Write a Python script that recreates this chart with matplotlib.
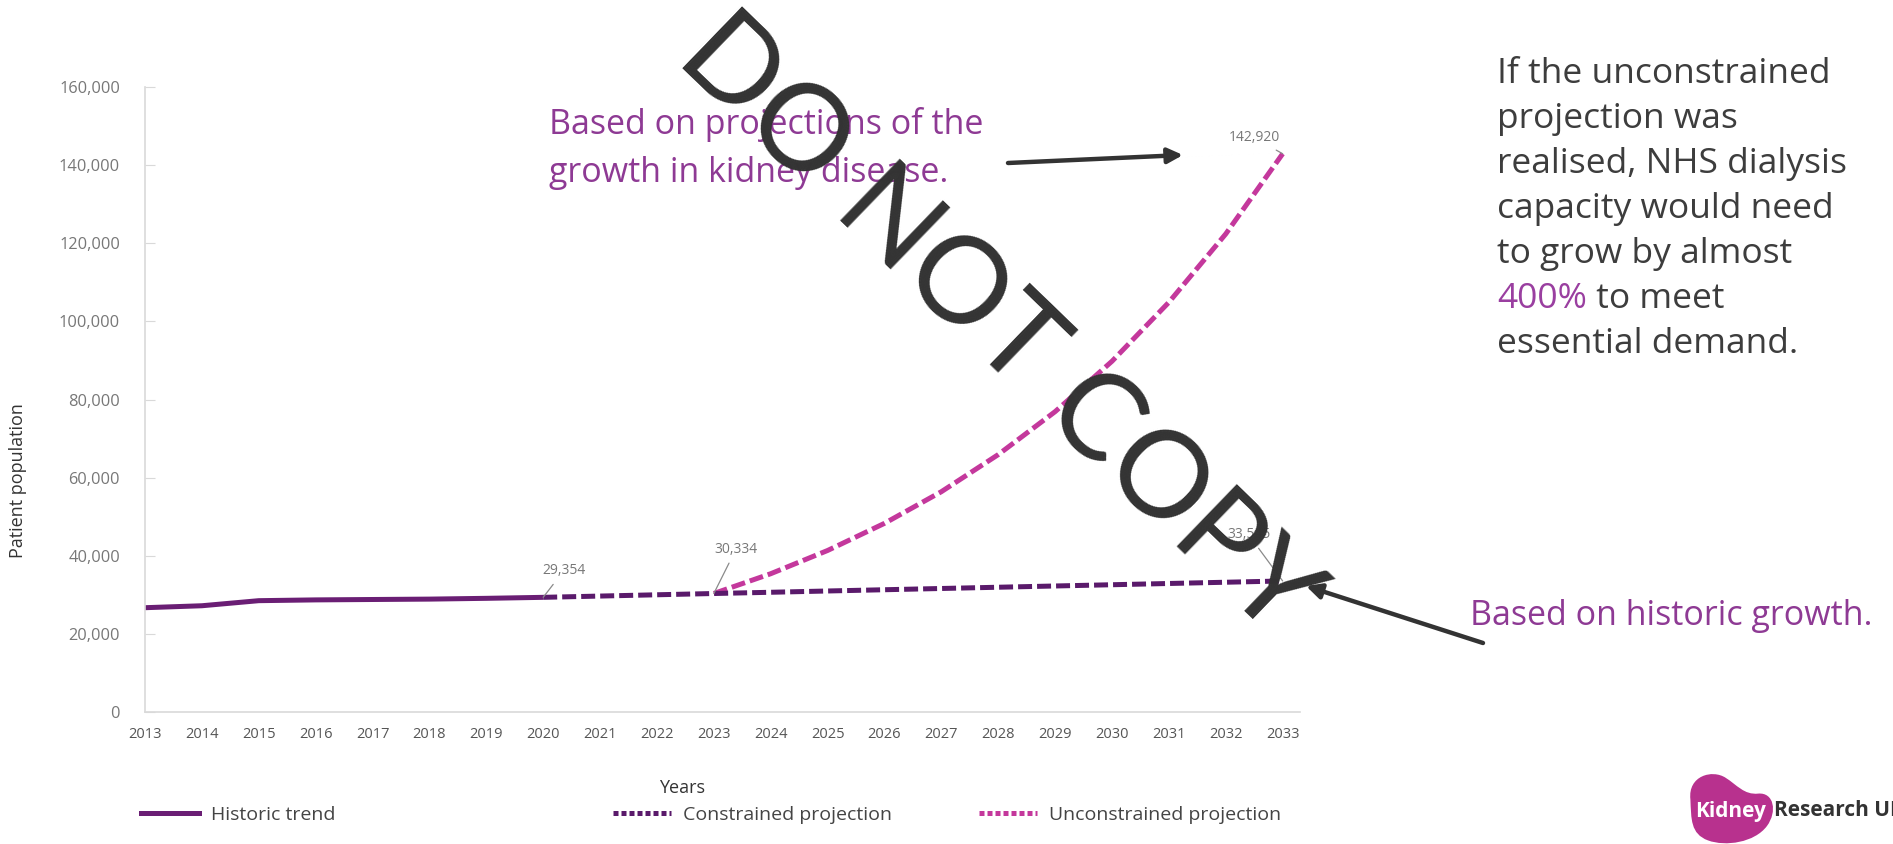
import matplotlib
matplotlib.use('Agg')
import matplotlib.pyplot as plt
import matplotlib.transforms as mtransforms
from matplotlib.lines import Line2D
from matplotlib.patches import PathPatch
from matplotlib.path import Path
from matplotlib.ticker import FuncFormatter

plt.rcParams['font.family'] = ['Open Sans', 'DejaVu Sans']

# ---------------------------------------------------------------------------
# Patient population data
# ---------------------------------------------------------------------------
hist_years = [2013, 2014, 2015, 2016, 2017, 2018, 2019, 2020]
hist_values = [26700, 27200, 28500, 28700, 28800, 28900, 29100, 29354]

constrained_years = [2020, 2021, 2022, 2023, 2024, 2025, 2026, 2027,
                     2028, 2029, 2030, 2031, 2032, 2033]
constrained_values = [29354, 29680, 30010, 30334, 30650, 30980, 31300, 31620,
                      31940, 32260, 32580, 32900, 33220, 33545]

unconstrained_years = [2023, 2024, 2025, 2026, 2027, 2028, 2029, 2030,
                       2031, 2032, 2033]
unconstrained_values = [30334, 35400, 41350, 48300, 56400, 65900, 76900, 89800,
                        104900, 122400, 142920]

year_ticks = list(range(2013, 2034))
pop_ticks = [0, 20000, 40000, 60000, 80000, 100000, 120000, 140000, 160000]

HIST_COL = '#6A1E74'
CON_COL = '#5A1A6B'
UNCON_COL = '#C4389C'
TXT_PURPLE = '#8E3A94'
TXT_DARK = '#3D3D3D'
GREY = '#777777'

fig = plt.figure(figsize=(18.93, 8.44), dpi=100)
ax = fig.add_axes([0.0766, 0.1564, 0.610, 0.7405])

ax.plot(hist_years, hist_values, color=HIST_COL, lw=3.6, solid_capstyle='butt')
ax.plot(unconstrained_years, unconstrained_values, color=UNCON_COL, lw=3.6,
        dashes=(2.8, 1.0))
ax.plot(constrained_years, constrained_values, color=CON_COL, lw=3.6,
        dashes=(2.8, 1.0))

ax.set_xlim(2013, 2033.3)
ax.set_ylim(0, 160000)
ax.set_xticks(year_ticks)
ax.set_yticks(pop_ticks)
ax.yaxis.set_major_formatter(FuncFormatter(lambda v, p: f'{int(v):,}'))

for side in ['top', 'right']:
    ax.spines[side].set_visible(False)
for side in ['left', 'bottom']:
    ax.spines[side].set_color('#D9D9D9')
    ax.spines[side].set_linewidth(1.2)
ax.tick_params(axis='x', length=0, pad=11, labelsize=10.5, labelcolor='#555555')
ax.tick_params(axis='y', direction='in', length=7, color='#D9D9D9',
               pad=18, labelsize=11.8, labelcolor='#777777')

ax.set_ylabel('Patient population', fontsize=13, color='#333333')
ax.yaxis.set_label_coords(-0.102, 0.371)
ax.set_xlabel('Years', fontsize=13, color='#333333')
ax.xaxis.set_label_coords(0.465, -0.107)

# value call-outs with thin leader lines
callouts = [
    (hist_years[-1], hist_values[-1], 2020.36, 36140),
    (constrained_years[3], constrained_values[3], 2023.39, 41700),
    (unconstrained_years[-1], unconstrained_values[-1], 2032.5, 147000),
    (constrained_years[-1], constrained_values[-1], 2032.4, 45400),
]
for x, y, tx, ty in callouts:
    ax.annotate(f'{y:,}', xy=(x, y), xytext=(tx, ty), ha='center', va='center',
                fontsize=10, color=GREY, annotation_clip=False,
                arrowprops=dict(arrowstyle='-', color='#8A8A8A', lw=0.9,
                                shrinkA=3, shrinkB=0))

# legend entries spread along the bottom
legend_items = [
    ('Historic trend', HIST_COL, None, 0.0745),
    ('Constrained projection', CON_COL, (1.0, 0.6), 0.3238),
    ('Unconstrained projection', UNCON_COL, (1.0, 0.6), 0.5172),
]
for label, col, dash, xpos in legend_items:
    if dash is None:
        h = Line2D([], [], color=col, lw=3.6)
    else:
        h = Line2D([], [], color=col, lw=3.6, dashes=dash)
    fig.legend(handles=[h], labels=[label], loc='center left',
               bbox_to_anchor=(xpos, 0.0344), frameon=False, fontsize=14,
               handlelength=3.0, handletextpad=0.62, borderaxespad=0,
               borderpad=0, labelcolor='#444444')

# commentary
fig.text(0.290, 1 - 124 / 844, 'Based on projections of the', fontsize=24.5,
         color=TXT_PURPLE, va='center')
fig.text(0.290, 1 - 173 / 844, 'growth in kidney disease.', fontsize=24.5,
         color=TXT_PURPLE, va='center')
fig.text(0.7766, 1 - 616 / 844, 'Based on historic growth.', fontsize=24.5,
         color=TXT_PURPLE, va='center')

side_lines = ['If the unconstrained', 'projection was',
              'realised, NHS dialysis', 'capacity would need',
              'to grow by almost', None, 'essential demand.']
for i, line in enumerate(side_lines):
    yy = 1 - (74 + 45 * i) / 844
    if line is None:
        t = fig.text(0.791, yy, '400%', fontsize=25.5, color='#9A3FA0',
                     va='center')
        ax.annotate(' to meet', xy=(1, 0.5), xycoords=t, va='center',
                    fontsize=25.5, color=TXT_DARK, annotation_clip=False)
    else:
        fig.text(0.791, yy, line, fontsize=25.5, color=TXT_DARK, va='center')

# pointer arrows
arrow_kw = dict(arrowstyle='-|>,head_length=0.9,head_width=0.45',
                color='#333333', lw=3.2, shrinkA=0, shrinkB=0)
ax.annotate('', xy=(1183 / 1893, 1 - 155 / 844), xycoords='figure fraction',
            xytext=(1008 / 1893, 1 - 163 / 844), textcoords='figure fraction',
            arrowprops=arrow_kw, annotation_clip=False)
ax.annotate('', xy=(1306 / 1893, 1 - 586 / 844), xycoords='figure fraction',
            xytext=(1483 / 1893, 1 - 643 / 844), textcoords='figure fraction',
            arrowprops=arrow_kw, annotation_clip=False)

# logo: bean shape with the charity name
bean = Path([(0.05, 0.62), (0.02, 0.95), (0.30, 1.04), (0.45, 0.92),
             (0.58, 0.82), (0.66, 0.68), (0.82, 0.70),
             (1.00, 0.72), (1.04, 0.45), (0.92, 0.25),
             (0.78, 0.02), (0.45, -0.04), (0.25, 0.05),
             (0.05, 0.14), (0.06, 0.35), (0.05, 0.62)],
            [Path.MOVETO, Path.CURVE4, Path.CURVE4, Path.CURVE4,
             Path.CURVE4, Path.CURVE4, Path.CURVE4,
             Path.CURVE4, Path.CURVE4, Path.CURVE4,
             Path.CURVE4, Path.CURVE4, Path.CURVE4,
             Path.CURVE4, Path.CURVE4, Path.CURVE4])
logo_tr = mtransforms.Affine2D().scale(88, 72).translate(1686, 0)
fig.patches.append(PathPatch(bean, facecolor='#B8318E', edgecolor='none',
                             transform=logo_tr, figure=fig))
fig.text(1731 / 1893, 33 / 844, 'Kidney', fontsize=15, fontweight='bold',
         color='white', ha='center', va='center')
fig.text(1774 / 1893, 33 / 844, 'Research UK', fontsize=15,
         fontweight='bold', color='#333333', ha='left', va='center')

# watermark across the chart
fig.text(0.527, 0.613, 'DO NOT COPY', fontsize=87, family='Lato',
         color='#333333', rotation=-44, rotation_mode='anchor',
         ha='center', va='center')

fig.savefig('out.png', dpi=100, facecolor='white')
